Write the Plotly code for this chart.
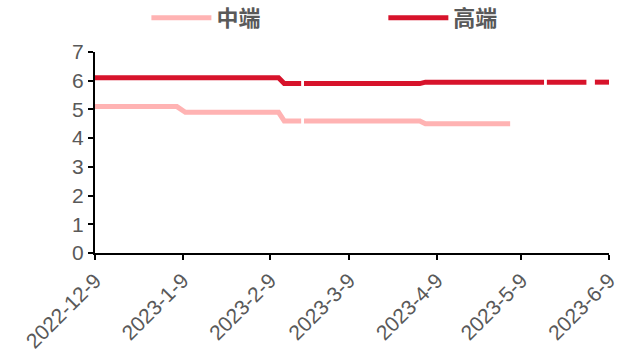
import plotly.graph_objects as go

# 中端 (mid-end) series
mid_dates = ["2022-12-09", "2023-01-07", "2023-01-10", "2023-02-12", "2023-02-14",
             "2023-02-20", "2023-02-20", "2023-02-21", "2023-04-03", "2023-04-05", "2023-05-05"]
mid_values = [5.1, 5.1, 4.9, 4.9, 4.6, 4.6, None, 4.6, 4.6, 4.5, 4.5]

# 高端 (high-end) series
high_dates = ["2022-12-09", "2023-02-12", "2023-02-14", "2023-02-20", "2023-02-20",
              "2023-02-21", "2023-04-03", "2023-04-05", "2023-05-17", "2023-05-17",
              "2023-05-18", "2023-06-01", "2023-06-01", "2023-06-04", "2023-06-09"]
high_values = [6.1, 6.1, 5.9, 5.9, None, 5.9, 5.9, 5.95, 5.95, None,
               5.95, 5.95, None, 5.95, 5.95]

tick_dates = ["2022-12-09", "2023-01-09", "2023-02-09", "2023-03-09",
              "2023-04-09", "2023-05-09", "2023-06-09"]
tick_labels = ["2022-12-9", "2023-1-9", "2023-2-9", "2023-3-9",
               "2023-4-9", "2023-5-9", "2023-6-9"]
y_ticks = [0, 1, 2, 3, 4, 5, 6, 7]

fig = go.Figure()
fig.add_trace(go.Scatter(x=mid_dates, y=mid_values, mode="lines", name="中端",
                         line=dict(color="#FFB3B3", width=5), connectgaps=False,
                         legend="legend"))
fig.add_trace(go.Scatter(x=high_dates, y=high_values, mode="lines", name="高端",
                         line=dict(color="#D7132B", width=5), connectgaps=False,
                         legend="legend2"))

legend_font = dict(family="Noto Sans CJK SC", size=22, color="#595959", weight="bold")
leg_common = dict(orientation="h", yref="container", y=0.95, yanchor="middle",
                  xanchor="left", font=legend_font, itemwidth=60,
                  bgcolor="rgba(0,0,0,0)")

fig.update_layout(
    width=622, height=358,
    margin=dict(l=95, r=13, t=52, b=105),
    paper_bgcolor="white", plot_bgcolor="white",
    showlegend=True,
    legend=dict(x=0.1, **leg_common),
    legend2=dict(x=0.561, **leg_common),
    xaxis=dict(type="date", range=["2022-12-09", "2023-06-09"],
               tickvals=tick_dates, ticktext=tick_labels, tickangle=-45,
               tickfont=dict(family="Liberation Sans, Arial, sans-serif", size=21, color="#595959"),
               showgrid=False, zeroline=False, automargin=False,
               showline=True, linecolor="black", linewidth=2,
               ticks="outside", ticklen=5, tickcolor="black", tickwidth=2),
    yaxis=dict(range=[0, 7], tickvals=y_ticks,
               tickfont=dict(family="Liberation Sans, Arial, sans-serif", size=21, color="#595959"),
               showgrid=False, zeroline=False, automargin=False,
               showline=True, linecolor="black", linewidth=2,
               ticks="outside", ticklen=5, tickcolor="black", tickwidth=2),
)

fig.write_html("out.html")
